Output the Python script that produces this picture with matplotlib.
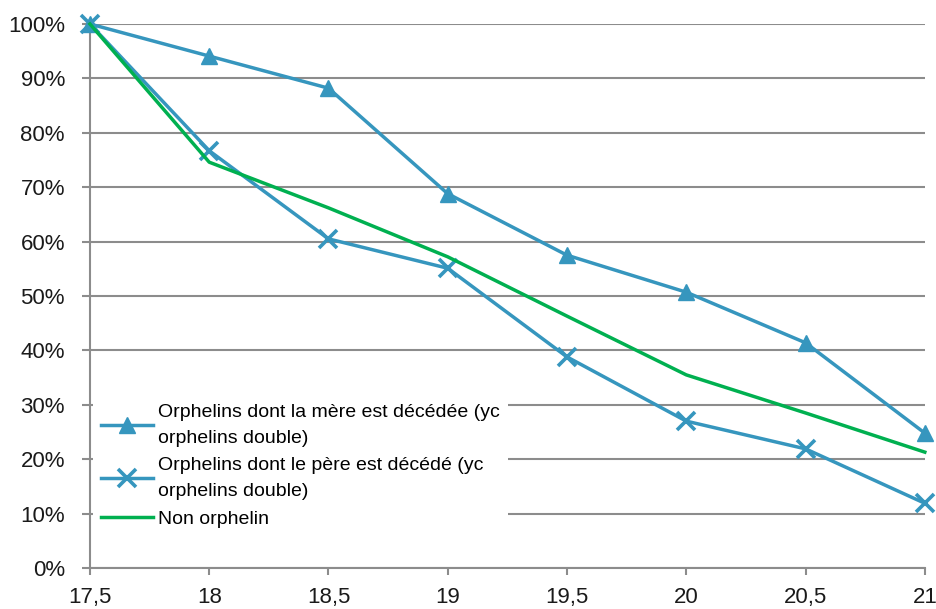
import numpy as np
from matplotlib import pyplot as plt
from matplotlib.ticker import FuncFormatter

plt.rcParams['font.family'] = ['Liberation Sans Narrow', 'Liberation Sans', 'DejaVu Sans']

ages = [17.5, 18, 18.5, 19, 19.5, 20, 20.5, 21]
mere = [100, 94.1, 88.2, 68.8, 57.5, 50.7, 41.4, 24.8]
pere = [100, 76.7, 60.5, 55.1, 38.8, 27.0, 21.9, 11.9]
non_orph = [100, 74.6, 66.2, 57.2, 46.3, 35.5, 28.5, 21.3]
labels = ["Orphelins dont la mère est décédée (yc\norphelins double)",
          "Orphelins dont le père est décédé (yc\norphelins double)",
          "Non orphelin"]

blue = '#3696BE'
green = '#00B050'

fig = plt.figure(figsize=(9.37, 6.09), dpi=100)
ax = fig.add_axes([0.096, 0.0673, 0.891, 0.8933])

ax.plot(ages, mere, color=blue, lw=2.5, marker='^', ms=11, label=labels[0], clip_on=False, zorder=3)
ax.plot(ages, pere, color=blue, lw=2.5, marker='x', ms=13, mew=2.6, label=labels[1], clip_on=False, zorder=3)
ax.plot(ages, non_orph, color=green, lw=2.5, label=labels[2], clip_on=False, zorder=3)

ax.set_xlim(17.5, 21)
ax.set_ylim(0, 100)
ax.set_xticks(ages)
ax.xaxis.set_major_formatter(FuncFormatter(lambda v, p: ('%g' % v).replace('.', ',')))
ax.set_yticks(np.arange(0, 101, 10))
ax.yaxis.set_major_formatter(FuncFormatter(lambda v, p: '%d%%' % v))
ax.grid(axis='y', color='#8c8c8c', lw=1.5)
ax.set_axisbelow(True)
for s in ['top', 'right']:
    ax.spines[s].set_visible(False)
for s in ['left', 'bottom']:
    ax.spines[s].set_color('#8c8c8c')
    ax.spines[s].set_linewidth(1.5)
ax.tick_params(axis='both', colors='#8c8c8c', labelcolor='#1a1a1a', labelsize=16, width=1.5)
ax.tick_params(axis='y', length=6, pad=12)
ax.tick_params(axis='x', length=5, pad=9)

leg = ax.legend(loc='upper left', bbox_to_anchor=(93 / 937, 1 - 396 / 609),
                bbox_transform=fig.transFigure, borderaxespad=0, fontsize=14, frameon=True,
                fancybox=False, edgecolor='none', facecolor='white', framealpha=1,
                handlelength=2.7, handletextpad=0.25, labelspacing=0.5, borderpad=0.4)
for t in leg.get_texts():
    t.set_linespacing(1.72)
leg.set_zorder(2)

fig.savefig('out.png', dpi=100)
